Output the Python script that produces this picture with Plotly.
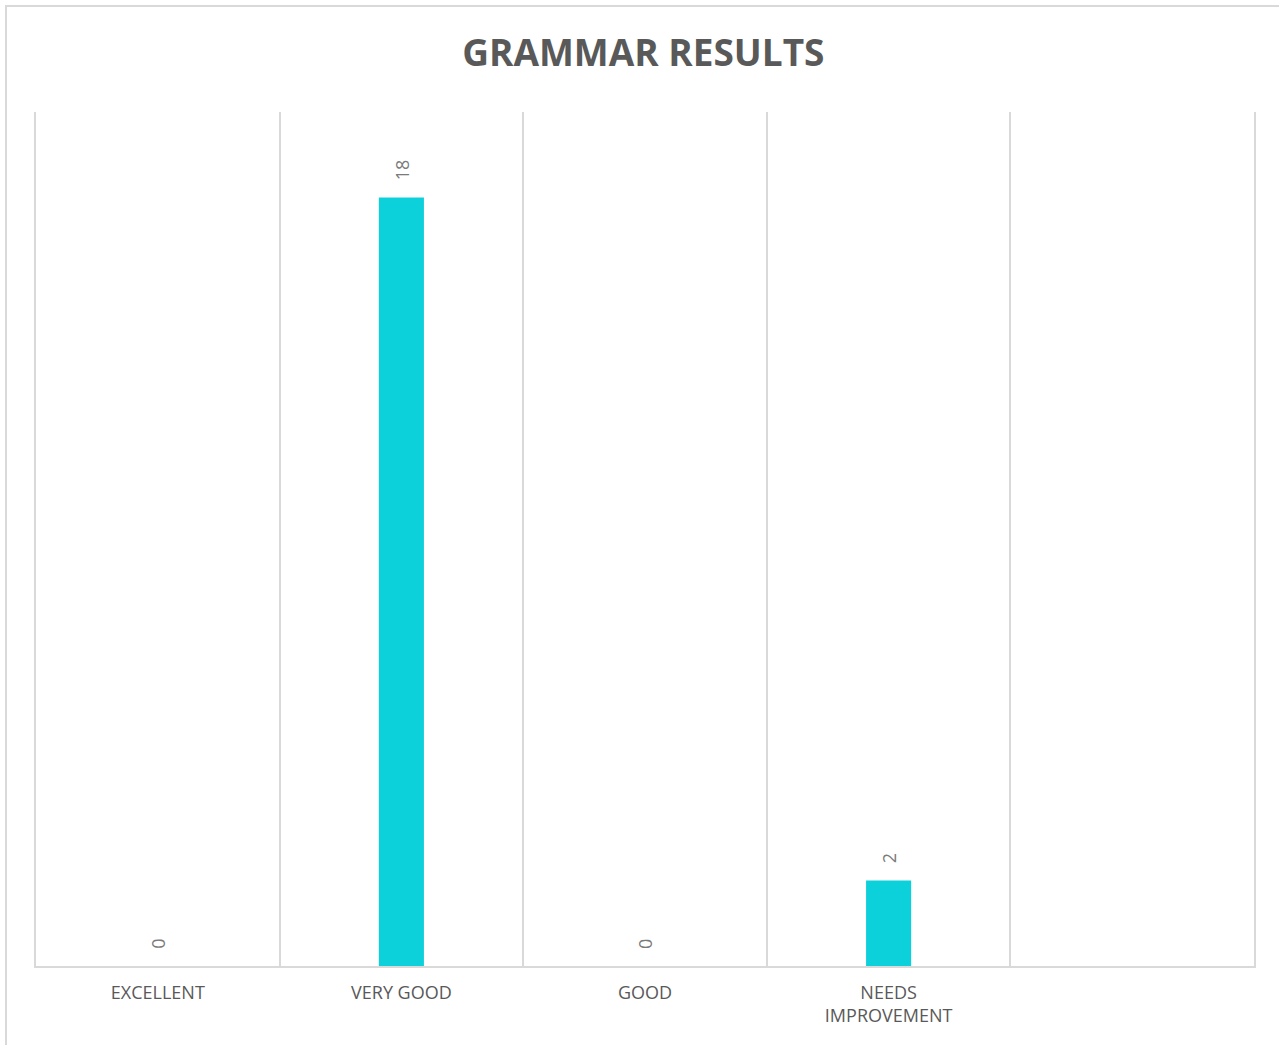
import plotly.graph_objects as go

categories = ["EXCELLENT", "VERY GOOD", "GOOD", "NEEDS<br>IMPROVEMENT", " "]
values = [0, 18, 0, 2, None]
labels = ["0", "18", "0", "2", ""]
title_text = "GRAMMAR RESULTS"

fig = go.Figure()
fig.add_trace(go.Bar(
    x=categories, y=values,
    marker=dict(color="#0dd1da", line=dict(width=0)),
    hoverinfo="x+y",
))

for cat, val, lab in zip(categories, values, labels):
    if val is None:
        continue
    fig.add_annotation(
        x=cat, y=val, text=lab, showarrow=False, textangle=-90,
        xanchor="center", yanchor="bottom", yshift=15,
        font=dict(family="Open Sans", size=18, color="#7a7a7a"),
    )

fig.update_layout(
    width=1279, height=1045,
    margin=dict(l=36, r=25, t=112, b=79),
    paper_bgcolor="white", plot_bgcolor="white",
    showlegend=False,
    bargap=0.815,
    title=dict(text="<b>" + title_text + "</b>", x=0.503, xanchor="center",
               y=1 - 53 / 1045, yanchor="middle",
               font=dict(family="Open Sans", size=37, color="#595959")),
    xaxis=dict(
        type="category", categoryorder="array", categoryarray=categories,
        tickson="boundaries", showgrid=True, gridcolor="#d9d9d9", gridwidth=1.5,
        showline=True, linecolor="#d9d9d9", linewidth=2,
        ticks="", ticklabelstandoff=9,
        tickfont=dict(family="Open Sans", size=18, color="#595959"),
        zeroline=False, fixedrange=True,
    ),
    yaxis=dict(range=[0, 20], showgrid=False, showticklabels=False,
               zeroline=False, showline=True, mirror=True,
               linecolor="#d9d9d9", linewidth=1.5, ticks=""),
    shapes=[dict(type="rect", xref="paper", yref="paper",
                 x0=(6 - 36) / 1218, x1=1.1, y0=-0.2, y1=(966 - 6) / 854,
                 line=dict(color="#d9d9d9", width=2), layer="below")],
)

fig.write_html("out.html")
